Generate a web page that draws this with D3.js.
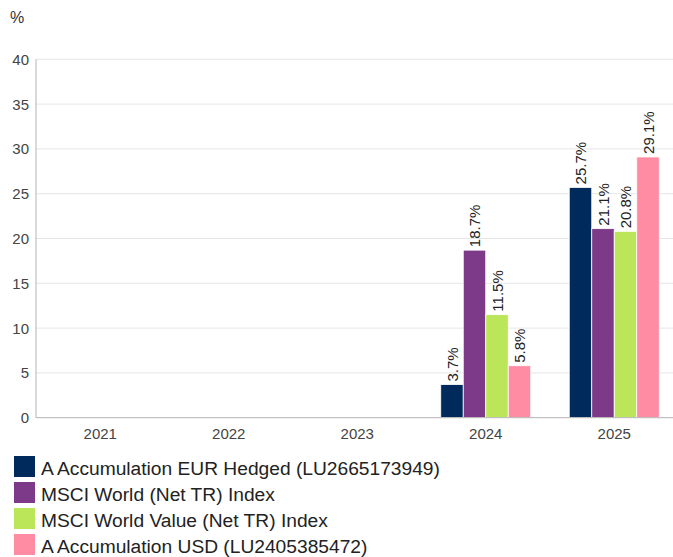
<!DOCTYPE html>
<html>
<head>
<meta charset="utf-8">
<script src="https://cdn.jsdelivr.net/npm/d3@7"></script>
<style>
  body { margin: 0; background: #fff; }
  svg { display: block; font-family: "Liberation Sans", Arial, sans-serif; }
</style>
</head>
<body>
<svg id="chart" width="673" height="557"></svg>
<script>
// Calendar-year performance, % per series
const years = ["2021", "2022", "2023", "2024", "2025"];
const seriesNames = [
  "A Accumulation EUR Hedged (LU2665173949)",
  "MSCI World (Net TR) Index",
  "MSCI World Value (Net TR) Index",
  "A Accumulation USD (LU2405385472)"
];
const seriesColors = ["#002a5c", "#7d3a88", "#bce65a", "#ff8ca2"];
const eurHedged = [null, null, null, 3.7, 25.7];
const msciWorld = [null, null, null, 18.7, 21.1];
const msciValue = [null, null, null, 11.5, 20.8];
const usdAcc    = [null, null, null, 5.8, 29.1];
const yTicks = [0, 5, 10, 15, 20, 25, 30, 35, 40];

const allSeries = [eurHedged, msciWorld, msciValue, usdAcc];

const svg = d3.select("#chart");
const plotL = 36, plotR = 678.5, plotT = 59.3, plotB = 417.7;

const x = d3.scaleBand().domain(years).range([plotL, plotR]).paddingInner(0).paddingOuter(0);
const barW = 22.5;
const x1 = d3.scaleBand().domain(d3.range(seriesNames.length))
  .range([0, barW * seriesNames.length]);
const y = d3.scaleLinear().domain([0, 40]).range([plotB, plotT]);

// Horizontal gridlines
svg.append("g").selectAll("line")
  .data(yTicks.filter(t => t > 0))
  .join("line")
  .attr("x1", plotL).attr("x2", 673)
  .attr("y1", d => y(d)).attr("y2", d => y(d))
  .attr("stroke", "#e6e6e6").attr("stroke-width", 1);

// Y tick labels
svg.append("g").selectAll("text")
  .data(yTicks)
  .join("text")
  .attr("x", 29).attr("y", d => y(d))
  .attr("dy", "0.36em")
  .attr("text-anchor", "end")
  .attr("font-size", 15)
  .attr("fill", "#444")
  .text(d => d);

// Unit label
svg.append("text")
  .attr("x", 10).attr("y", 23)
  .attr("font-size", 16).attr("fill", "#333")
  .text("%");

// Bars
const groups = svg.append("g").selectAll("g")
  .data(years.map((yr, i) => ({ yr, vals: allSeries.map(s => s[i]) })))
  .join("g")
  .attr("transform", d => `translate(${x(d.yr) + (x.bandwidth() - barW * seriesNames.length) / 2},0)`);

const cells = groups.selectAll("g")
  .data(d => d.vals.map((v, k) => ({ v, k })).filter(c => c.v !== null))
  .join("g");

cells.append("rect")
  .attr("x", c => x1(c.k))
  .attr("width", x1.bandwidth())
  .attr("y", c => y(c.v))
  .attr("height", c => y(0) - y(c.v))
  .attr("fill", c => seriesColors[c.k])
  .attr("stroke", "#fff").attr("stroke-width", 0.8);

// Rotated value labels
cells.append("text")
  .attr("transform", c => `translate(${x1(c.k) + x1.bandwidth() / 2 + 0.5},${y(c.v) - 3}) rotate(-90)`)
  .attr("dy", "0.36em")
  .attr("font-size", 15)
  .attr("fill", "#222")
  .text(c => c.v.toFixed(1) + "%");

// Axis lines
svg.append("line")
  .attr("x1", plotL).attr("x2", plotL).attr("y1", plotT).attr("y2", plotB)
  .attr("stroke", "#b3b3b3");
svg.append("line")
  .attr("x1", plotL).attr("x2", 673).attr("y1", plotB).attr("y2", plotB)
  .attr("stroke", "#b3b3b3");

// X tick labels
svg.append("g").selectAll("text")
  .data(years)
  .join("text")
  .attr("x", d => x(d) + x.bandwidth() / 2)
  .attr("y", 439)
  .attr("text-anchor", "middle")
  .attr("font-size", 15)
  .attr("fill", "#444")
  .text(d => d);

// Legend
const legend = svg.append("g").selectAll("g")
  .data(seriesNames)
  .join("g")
  .attr("transform", (d, i) => `translate(14,${456 + i * 26})`);
legend.append("rect")
  .attr("width", 21).attr("height", 21)
  .attr("fill", (d, i) => seriesColors[i]);
legend.append("text")
  .attr("x", 27).attr("y", 19)
  .attr("font-size", 19.2)
  .attr("fill", "#222")
  .text(d => d);
</script>
</body>
</html>
